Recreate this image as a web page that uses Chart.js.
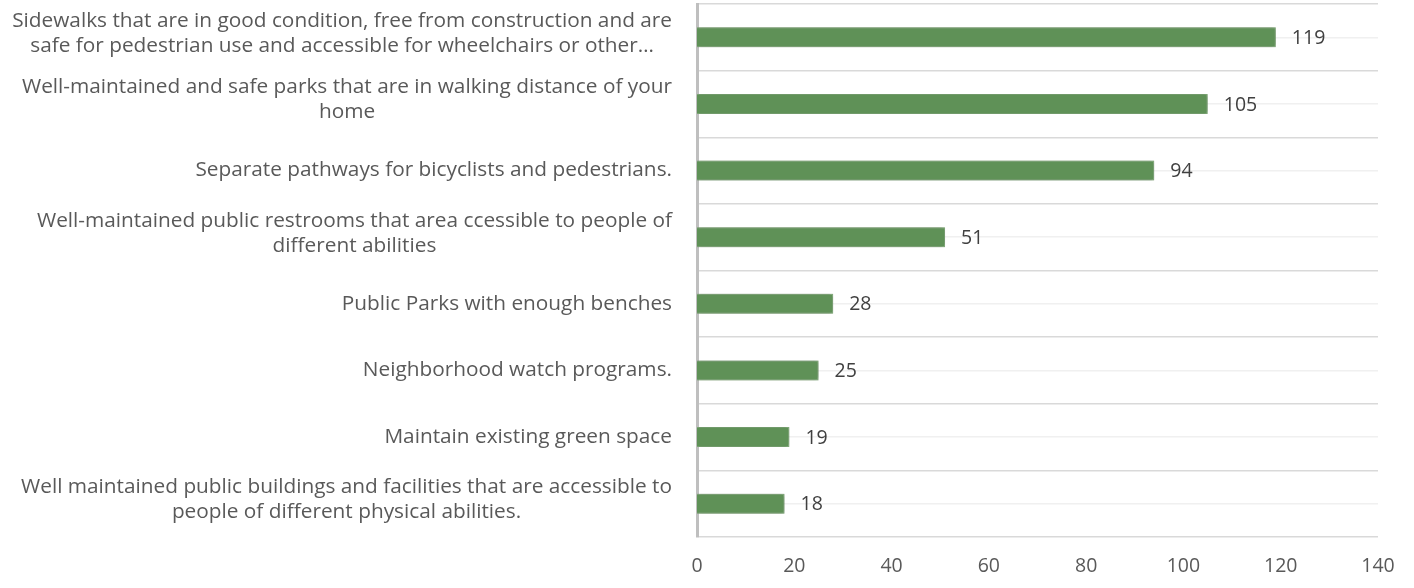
<!DOCTYPE html>
<html>
<head>
<meta charset="utf-8">
<script src="https://cdn.jsdelivr.net/npm/chart.js@4.4.0/dist/chart.umd.min.js"></script>
<style>
  html, body { margin: 0; padding: 0; background: #fff; }
  #wrap { width: 1414px; height: 588px; }
</style>
</head>
<body>
<div id="wrap"><canvas id="grafico"></canvas></div>
<script>
// categorias (cada linha do rótulo numa posição do array)
const categorias = [
    ['Sidewalks that are in good condition, free from construction and are', 'safe for pedestrian use and accessible for wheelchairs or other…'],
    ['Well-maintained and safe parks that are in walking distance of your', 'home'],
    ['Separate pathways for bicyclists and pedestrians.'],
    ['Well-maintained public restrooms that area ccessible to people of', 'different abilities'],
    ['Public Parks with enough benches'],
    ['Neighborhood watch programs.'],
    ['Maintain existing green space'],
    ['Well maintained public buildings and facilities that are accessible to', 'people of different physical abilities.']
];
const valores = [119, 105, 94, 51, 28, 25, 19, 18];
const eixoX = { min: 0, max: 140, passo: 20 };

const fonte = '"Open Sans", sans-serif';
const fonteRotulo = 20.8;
const fonteNumero = 19.5;

// Desenha rótulos do eixo Y (bloco alinhado à direita, linhas centralizadas) e os valores
const rotulosPlugin = {
    id: 'rotulos',
    beforeDatasetsDraw(chart) {
        const ctx = chart.ctx;
        ctx.save();
        ctx.shadowColor = 'rgba(40,70,35,0.6)';
        ctx.shadowBlur = 4;
    },
    afterDatasetsDraw(chart) {
        const ctx = chart.ctx;
        ctx.restore();
        const escala = chart.scales.y;
        const direita = chart.chartArea.left - 25;
        const alturaLinha = 25;
        ctx.save();
        ctx.font = fonteRotulo + 'px ' + fonte;
        ctx.fillStyle = '#595959';
        ctx.textBaseline = 'middle';
        ctx.textAlign = 'center';
        categorias.forEach(function (linhas, i) {
            const yc = escala.getPixelForValue(i) - (linhas.length > 1 ? 4 : 0);
            let largura = 0;
            linhas.forEach(function (l) { largura = Math.max(largura, ctx.measureText(l).width); });
            const xc = direita - largura / 2;
            const y0 = yc - (linhas.length - 1) * alturaLinha / 2;
            linhas.forEach(function (l, k) { ctx.fillText(l, xc, y0 + k * alturaLinha); });
        });
        // valores ao lado das barras
        ctx.font = fonteNumero + 'px ' + fonte;
        ctx.fillStyle = '#404040';
        ctx.textAlign = 'left';
        chart.getDatasetMeta(0).data.forEach(function (barra, i) {
            ctx.fillText(String(valores[i]), barra.x + 16, barra.y + 1);
        });
        ctx.restore();
    }
};

const ctx = document.getElementById('grafico').getContext('2d');
new Chart(ctx, {
    type: 'bar',
    data: {
        labels: categorias,
        datasets: [{
            data: valores,
            backgroundColor: '#5f9157',
            borderColor: '#8ab582',
            borderWidth: 1,
            borderSkipped: 'left',
            barPercentage: 0.6,
            categoryPercentage: 0.5
        }]
    },
    options: {
        indexAxis: 'y',
        responsive: true,
        maintainAspectRatio: false,
        animation: false,
        layout: { padding: { top: 4, right: 36, bottom: 0, left: 0 } },
        plugins: {
            legend: { display: false },
            tooltip: { enabled: false }
        },
        scales: {
            x: {
                min: eixoX.min,
                max: eixoX.max,
                ticks: { stepSize: eixoX.passo, color: '#595959', font: { family: fonte, size: fonteNumero }, padding: 18 },
                grid: { display: false, drawTicks: false },
                border: { display: false },
                afterFit: function (s) { s.height = 51; }
            },
            y: {
                ticks: { display: false },
                grid: { color: '#d9d9d9', lineWidth: 1.5, drawTicks: false, offset: true },
                border: { color: '#bfbfbf', width: 3 },
                afterFit: function (s) { s.width = 697; }
            },
            y2: {
                type: 'category',
                position: 'right',
                labels: categorias.map(function (c, i) { return String(i); }),
                offset: true,
                ticks: { display: false },
                grid: { color: '#f0f0f0', lineWidth: 1.5, drawTicks: false, offset: false },
                border: { display: false },
                afterFit: function (s) { s.width = 0; }
            }
        }
    },
    plugins: [rotulosPlugin]
});
</script>
</body>
</html>
